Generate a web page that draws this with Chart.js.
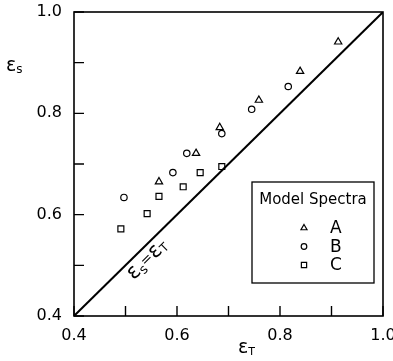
<!DOCTYPE html>
<html>
<head>
<meta charset="utf-8">
<script src="https://cdn.jsdelivr.net/npm/chart.js@4/dist/chart.umd.min.js"></script>
<style>
  html, body { margin: 0; padding: 0; background: #fff; }
  canvas { display: block; }
</style>
</head>
<body>
<canvas id="chart" width="393" height="361"></canvas>
<script>
// axis ticks (every 0.1 gets a mark, every 0.2 gets a label)
var tickValues = [0.4, 0.5, 0.6, 0.7, 0.8, 0.9, 1.0];
var tickLabels = ['0.4', '0.6', '0.8', '1.0'];

// Model spectra A (triangles), B (circles), C (squares)
var specA_x = [0.565, 0.637, 0.683, 0.759, 0.839, 0.913];
var specA_y = [0.665, 0.721, 0.772, 0.826, 0.883, 0.941];
var specB_x = [0.497, 0.592, 0.619, 0.687, 0.745, 0.816];
var specB_y = [0.634, 0.683, 0.721, 0.760, 0.808, 0.853];
var specC_x = [0.491, 0.542, 0.565, 0.612, 0.645, 0.687];
var specC_y = [0.572, 0.602, 0.636, 0.655, 0.683, 0.695];

// the eS = eT line
var diagX = [0.4, 1.0];
var diagY = [0.4, 1.0];

function pts(xs, ys) {
  return xs.map(function(x, i) { return { x: x, y: ys[i] }; });
}

var FONT = '"DejaVu Sans", "Liberation Sans", sans-serif';

function subText(ctx, parts, x, y) {
  // parts: [text, size, dy]
  var cx = x;
  parts.forEach(function(p) {
    ctx.font = p[1] + 'px ' + FONT;
    ctx.fillText(p[0], cx, y + p[2]);
    cx += ctx.measureText(p[0]).width;
  });
  return cx - x;
}

function drawSymbol(ctx, style, x, y, r) {
  ctx.beginPath();
  if (style === 'triangle') {
    ctx.moveTo(x, y - r);
    ctx.lineTo(x + r * 0.87, y + r * 0.5);
    ctx.lineTo(x - r * 0.87, y + r * 0.5);
    ctx.closePath();
  } else if (style === 'circle') {
    ctx.arc(x, y, r * 0.8, 0, Math.PI * 2);
  } else {
    ctx.rect(x - r * 0.75, y - r * 0.75, r * 1.5, r * 1.5);
  }
  ctx.stroke();
}

var decorations = {
  id: 'decorations',
  afterDraw: function(chart) {
    var ctx = chart.ctx;
    var a = chart.chartArea;
    var xs = chart.scales.x, ys = chart.scales.y;
    ctx.save();
    ctx.strokeStyle = '#000';
    ctx.fillStyle = '#000';

    // frame
    ctx.lineWidth = 1.6;
    ctx.strokeRect(a.left, a.top, a.right - a.left, a.bottom - a.top);

    // inward ticks
    ctx.lineWidth = 1.4;
    tickValues.forEach(function(v) {
      var px = xs.getPixelForValue(v);
      var py = ys.getPixelForValue(v);
      ctx.beginPath();
      ctx.moveTo(px, a.bottom); ctx.lineTo(px, a.bottom - 10);
      ctx.moveTo(a.left, py); ctx.lineTo(a.left + 10, py);
      ctx.stroke();
    });

    // axis titles
    ctx.textBaseline = 'alphabetic';
    ctx.textAlign = 'left';
    subText(ctx, [['\u03b5', 19, 0], ['s', 12, 2]], 6, 71);
    subText(ctx, [['\u03b5', 19, 0], ['T', 11, 2]], 238, 353);

    // label along the diagonal
    var p0x = xs.getPixelForValue(0.4), p0y = ys.getPixelForValue(0.4);
    var p1x = xs.getPixelForValue(1.0), p1y = ys.getPixelForValue(1.0);
    var ang = Math.atan2(p1y - p0y, p1x - p0x);
    ctx.save();
    ctx.translate(xs.getPixelForValue(0.516), ys.getPixelForValue(0.47));
    ctx.rotate(ang);
    subText(ctx, [['\u03b5', 21, 0], ['s', 13, 3], ['=', 14, -2], ['\u03b5', 21, 0], ['T', 12, 2]], 0, 0);
    ctx.restore();

    // legend box
    var bx = a.right - 131, by = a.bottom - 134, bw = 122, bh = 101;
    ctx.lineWidth = 1.3;
    ctx.fillStyle = '#fff';
    ctx.fillRect(bx, by, bw, bh);
    ctx.strokeRect(bx, by, bw, bh);
    ctx.fillStyle = '#000';
    ctx.font = '15px ' + FONT;
    ctx.textAlign = 'center';
    ctx.textBaseline = 'middle';
    ctx.fillText('Model Spectra', bx + 61, by + 18);
    ctx.textAlign = 'left';
    ctx.lineWidth = 1.2;
    chart.data.datasets.forEach(function(ds, i) {
      if (!ds.legendStyle) return;
      var ry = by + 46 + i * 18.5;
      drawSymbol(ctx, ds.legendStyle, bx + 52, ry, 3.5);
      ctx.font = '17px ' + FONT;
      ctx.fillText(ds.label, bx + 78, ry + 1);
    });
    ctx.restore();
  }
};

var pointBase = {
  type: 'scatter',
  backgroundColor: 'rgba(0,0,0,0)',
  borderColor: '#000',
  pointBorderWidth: 1.2
};

new Chart(document.getElementById('chart'), {
  type: 'scatter',
  data: {
    datasets: [
      Object.assign({}, pointBase, { label: 'A', data: pts(specA_x, specA_y), pointStyle: 'triangle', pointRadius: 4.2, legendStyle: 'triangle' }),
      Object.assign({}, pointBase, { label: 'B', data: pts(specB_x, specB_y), pointStyle: 'circle', pointRadius: 3.2, legendStyle: 'circle' }),
      Object.assign({}, pointBase, { label: 'C', data: pts(specC_x, specC_y), pointStyle: 'rect', pointRadius: 4.2, legendStyle: 'rect' }),
      {
        type: 'line',
        label: 'diag',
        data: pts(diagX, diagY),
        borderColor: '#000',
        borderWidth: 2,
        pointRadius: 0,
        fill: false
      }
    ]
  },
  options: {
    responsive: false,
    animation: false,
    layout: { padding: { top: 12, right: 10, left: 0, bottom: 0 } },
    plugins: { legend: { display: false }, tooltip: { enabled: false } },
    scales: {
      x: {
        type: 'linear',
        min: 0.4,
        max: 1.0,
        afterBuildTicks: function(s) { s.ticks = tickValues.map(function(v) { return { value: v }; }); },
        afterFit: function(s) { s.height = 45; s.paddingLeft = 0; s.paddingRight = 0; },
        grid: { display: false },
        border: { display: false },
        ticks: {
          autoSkip: false,
          maxRotation: 0,
          padding: 2,
          color: '#000',
          font: { family: FONT, size: 16 },
          callback: function(v) {
            var t = Number(v).toFixed(1);
            return tickLabels.indexOf(t) >= 0 ? t : '';
          }
        }
      },
      y: {
        type: 'linear',
        min: 0.4,
        max: 1.0,
        afterBuildTicks: function(s) { s.ticks = tickValues.map(function(v) { return { value: v }; }); },
        afterFit: function(s) { s.width = 74; s.paddingTop = 0; s.paddingBottom = 0; },
        grid: { display: false },
        border: { display: false },
        ticks: {
          autoSkip: false,
          padding: 4,
          color: '#000',
          font: { family: FONT, size: 16 },
          callback: function(v) {
            var t = Number(v).toFixed(1);
            return tickLabels.indexOf(t) >= 0 ? t : '';
          }
        }
      }
    }
  },
  plugins: [decorations]
});
</script>
</body>
</html>
